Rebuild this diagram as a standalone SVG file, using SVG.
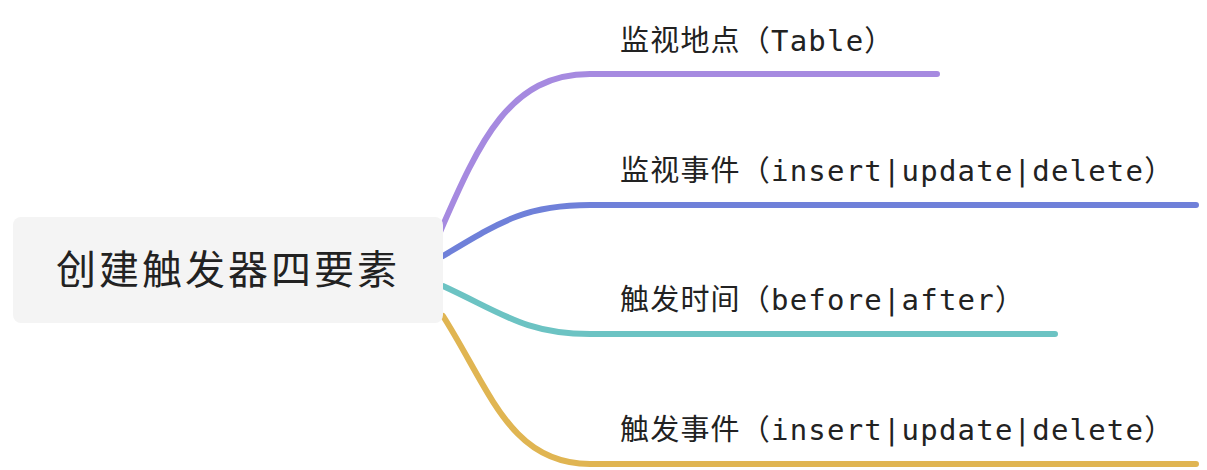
<svg xmlns="http://www.w3.org/2000/svg" width="1207" height="470" viewBox="0 0 1207 470">
<style>
.branch{fill:none;stroke-width:6;stroke-linecap:round;stroke-linejoin:round}
.lbl{font-family:"DejaVu Sans Mono","Noto Sans CJK SC",monospace;font-size:29px;fill:#222;letter-spacing:1.2px}
.root-t{font-family:"Noto Sans CJK SC",sans-serif;font-size:40px;fill:#222;letter-spacing:3px}
</style>
<rect width="1207" height="470" fill="#ffffff"/>
<g id="connectors">
<path class="branch" stroke="#a68ae0" d="M 440 232 C 480 140, 510 74, 590 74 L 937 74"/>
<path class="branch" stroke="#6f80d9" d="M 443 256 C 500 222, 525 205, 590 205 L 1196 205"/>
<path class="branch" stroke="#6cc3c3" d="M 443 286 C 500 312, 525 334, 590 334 L 1055 334"/>
<path class="branch" stroke="#e0b552" d="M 443 316 C 490 390, 510 464, 590 464 L 1196 464"/>
</g>
<g id="root">
<rect x="13" y="217" width="430" height="106" rx="8" fill="#f4f4f4"/>
<text class="root-t" x="228" y="284" text-anchor="middle">创建触发器四要素</text>
</g>
<g id="n1"><text class="lbl" x="620" y="51">监视地点（Table）</text></g>
<g id="n2"><text class="lbl" x="620" y="181">监视事件（insert|update|delete）</text></g>
<g id="n3"><text class="lbl" x="620" y="310">触发时间（before|after）</text></g>
<g id="n4"><text class="lbl" x="620" y="440">触发事件（insert|update|delete）</text></g>
</svg>
